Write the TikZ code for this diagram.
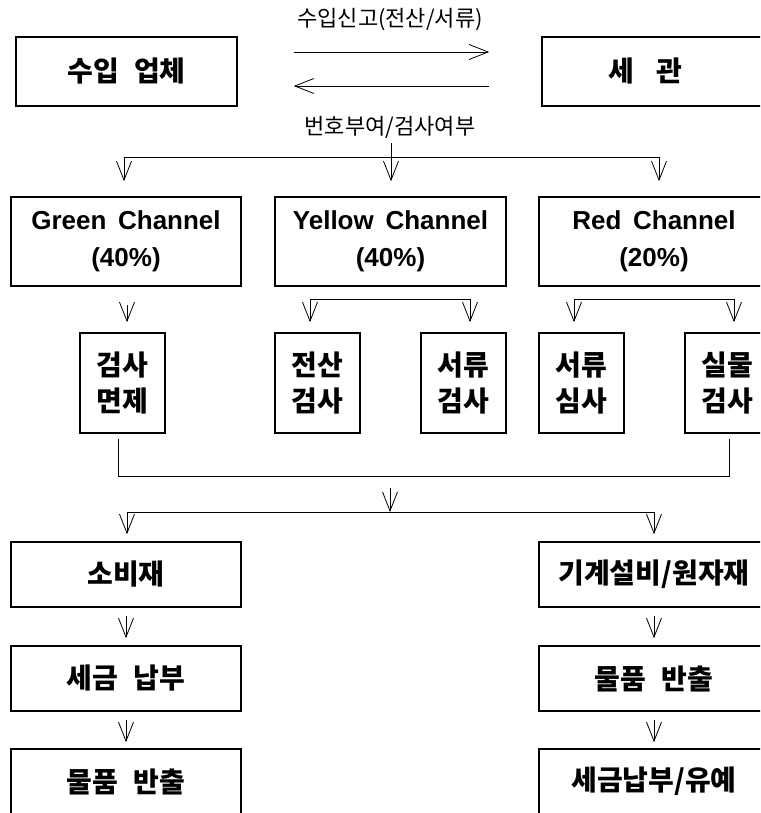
\documentclass[tikz,border=0pt]{standalone}
\usepackage{fontspec}
\usetikzlibrary{arrows.meta}
\newfontfamily\kr{Noto Sans CJK KR}
\newfontfamily\lat{Liberation Sans}
\tikzset{
  box/.style={draw, line width=1.6pt, inner sep=0pt, align=center,
    font=\kr\bfseries\fontsize{28}{36}\selectfont},
  chbox/.style={box, minimum width=230pt, minimum height=89pt,
    font=\lat\bfseries\fontsize{26}{37}\selectfont},
  wide/.style={box, minimum width=230pt, minimum height=65pt},
  small/.style={box, minimum width=85pt, minimum height=100pt},
  lab/.style={inner sep=0pt, font=\kr\fontsize{22}{26}\selectfont},
  arr/.style={-{Straight Barb[length=19pt,width=15pt]}, line width=0.8pt},
  ln/.style={line width=0.8pt}
}
\begin{document}
\begin{tikzpicture}[x=1pt,y=-1pt]
\useasboundingbox (0,0) rectangle (760,813);
\clip (0,0) rectangle (760,813);
% top row
\node[box, minimum width=221pt, minimum height=69pt] (imp) at (126.5,71.5) {수입\hspace{0.55em}업체};
\node[box, minimum width=230pt, minimum height=69pt] (cus) at (657,71.5) {\hspace{-24pt}세\hspace{0.8em}관};
\node[lab] (l1) at (390,20) {수입신고(전산/서류)};
\node[lab] (l2) at (390,127) {번호부여/검사여부};
\draw[arr, shorten <=56pt, shorten >=52pt] ([yshift=19.5pt]imp.east) -- ([yshift=19.5pt]cus.west);
\draw[arr, shorten <=52pt, shorten >=56pt] ([yshift=-14.5pt]cus.west) -- ([yshift=-14.5pt]imp.east);
% channels
\node[chbox] (green) at (126,241.5) {Green\hspace{0.45em}Channel\\(40\%)};
\node[chbox, minimum width=231pt] (yellow) at (390.5,241.5) {Yellow\hspace{0.45em}Channel\\(40\%)};
\node[chbox] (red) at (654,241.5) {Red\hspace{0.45em}Channel\\(20\%)};
\coordinate (t0) at (391,143);
\coordinate (hl) at (124,157);
\coordinate (hr) at (659,157);
\draw[arr, shorten >=15pt] (t0) -- (t0 |- yellow.north);
\draw[ln] (hl) -- (hr);
\draw[arr, shorten >=15pt] (hl) -- (hl |- green.north);
\draw[arr, shorten >=15pt] (hr) -- (hr |- red.north);
% small boxes
\node[small] (s1) at (122.5,383) {검사\\면제};
\node[small] (s2) at (317.5,383) {전산\\검사};
\node[small] (s3) at (463.5,383) {서류\\검사};
\node[small] (s4) at (581.5,383) {서류\\심사};
\node[small] (s5) at (727.5,383) {실물\\검사};
\coordinate (g0) at (127,305);
\draw[arr, shorten >=10pt] (g0) -- (g0 |- s1.north);
\coordinate (ya) at (310,299);
\coordinate (yb) at (470,299);
\draw[ln] (ya) -- (yb);
\draw[arr, shorten >=10pt] (ya) -- (ya |- s2.north);
\draw[arr, shorten >=10pt] (yb) -- (yb |- s3.north);
\coordinate (ra) at (574,299);
\coordinate (rb) at (734,299);
\draw[ln] (ra) -- (rb);
\draw[arr, shorten >=10pt] (ra) -- (ra |- s4.north);
\draw[arr, shorten >=10pt] (rb) -- (rb |- s5.north);
% merge
\coordinate (m1) at (118,476);
\coordinate (m2) at (729,476);
\draw[ln, shorten <=5pt, shorten >=5pt] (m1 |- s1.south) -- (m1) -- (m2) -- (m2 |- s5.south);
\coordinate (c0) at (390,488);
\coordinate (c1) at (390,512);
\draw[arr] (c0) -- (c1);
% bottom
\node[wide] (cons) at (126,574.5) {소비재};
\node[wide] (mach) at (654,574.5) {기계설비/원자재};
\node[wide] (tax1) at (126,678.5) {세금\hspace{0.55em}납부};
\node[wide] (rel2) at (654,678.5) {물품\hspace{0.55em}반출};
\node[wide] (rel1) at (126,781.5) {물품\hspace{0.55em}반출};
\node[wide] (tax2) at (654,781.5) {세금납부/유예};
\coordinate (bl) at (127,512);
\coordinate (br) at (654,512);
\draw[ln] (bl) -- (br);
\draw[arr, shorten >=7pt] (bl) -- (bl |- cons.north);
\draw[arr, shorten >=7pt] (br) -- (br |- mach.north);
\draw[arr, shorten <=8pt, shorten >=7pt] (cons.south) -- (tax1.north);
\draw[arr, shorten <=8pt, shorten >=6pt] (tax1.south) -- (rel1.north);
\draw[arr, shorten <=8pt, shorten >=7pt] (mach.south) -- (rel2.north);
\draw[arr, shorten <=8pt, shorten >=6pt] (rel2.south) -- (tax2.north);
\end{tikzpicture}
\end{document}
